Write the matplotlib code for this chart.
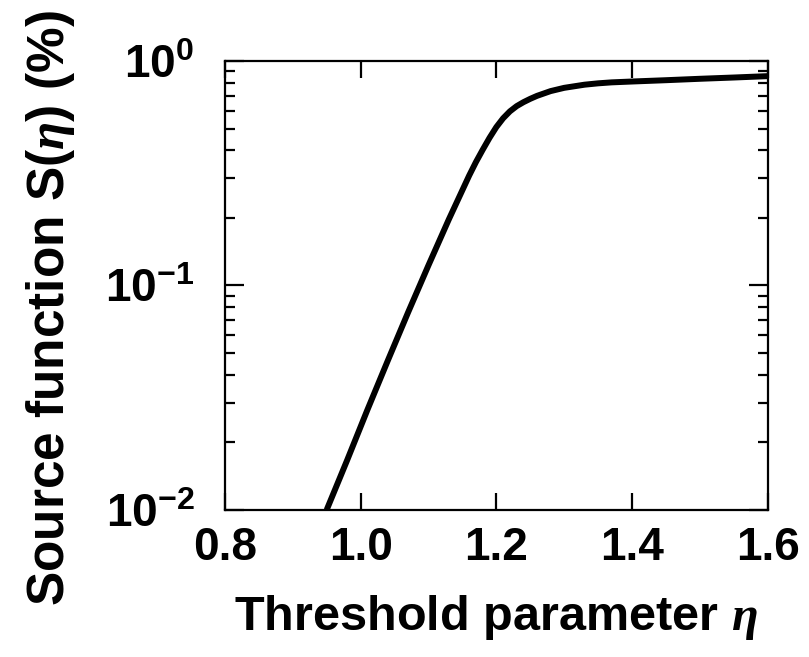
import numpy as np
import matplotlib
matplotlib.use('Agg')
import matplotlib.pyplot as plt
from matplotlib.ticker import LogLocator, FixedLocator, NullLocator

# данные
eta = [0.95, 0.98, 1.01, 1.04, 1.07, 1.10, 1.13, 1.16, 1.17, 1.18, 1.19,
       1.20, 1.21, 1.22, 1.23, 1.24, 1.25, 1.26, 1.28, 1.30, 1.33, 1.35,
       1.37, 1.40, 1.45, 1.50, 1.55, 1.60]
S = [0.0100, 0.0166, 0.0279, 0.0462, 0.0759, 0.123, 0.197, 0.309, 0.355,
     0.403, 0.455, 0.508, 0.556, 0.597, 0.630, 0.656, 0.679, 0.700, 0.735,
     0.760, 0.785, 0.796, 0.804, 0.811, 0.822, 0.834, 0.845, 0.857]
xticks = [0.8, 1.0, 1.2, 1.4, 1.6]

plt.rcParams['font.family'] = ['Liberation Sans', 'DejaVu Sans']
plt.rcParams['font.weight'] = 'bold'
plt.rcParams['mathtext.fontset'] = 'custom'
plt.rcParams['mathtext.rm'] = 'Liberation Sans:bold'
plt.rcParams['mathtext.bf'] = 'Liberation Sans:bold'
plt.rcParams['mathtext.it'] = 'Liberation Serif:bold:italic'

fig = plt.figure(figsize=(8.09, 6.57), dpi=100)
ax = fig.add_axes([0.278, 0.224, 0.671, 0.683])

ax.plot(eta, S, color='black', lw=4.3, solid_capstyle='butt')

ax.set_yscale('log')
ax.set_xlim(0.8, 1.6)
ax.set_ylim(1e-2, 1e0)
ax.xaxis.set_major_locator(FixedLocator(xticks))
ax.xaxis.set_minor_locator(NullLocator())
ax.set_xticklabels([f'{v:.1f}' for v in xticks])
ax.yaxis.set_major_locator(LogLocator(base=10, numticks=5))
ax.yaxis.set_minor_locator(LogLocator(base=10, subs=np.arange(2, 10), numticks=20))

for s in ax.spines.values():
    s.set_linewidth(1.6)

ax.tick_params(which='both', direction='in', top=True, right=True, width=1.6,
               labelsize=33)
ax.tick_params(axis='x', which='major', length=12, pad=12)
ax.tick_params(axis='y', which='major', length=13.5, pad=22)
ax.tick_params(axis='y', which='minor', length=7)

ax.set_xlabel(r'Threshold parameter $\eta$', fontsize=35, fontweight='bold')
ax.set_ylabel(r'Source function S($\eta$) (%)', fontsize=37, fontweight='bold')
ax.xaxis.set_label_coords(0.5, -0.185)
ax.yaxis.set_label_coords(-0.272, 0.45)

fig.savefig('out.png', dpi=100)
